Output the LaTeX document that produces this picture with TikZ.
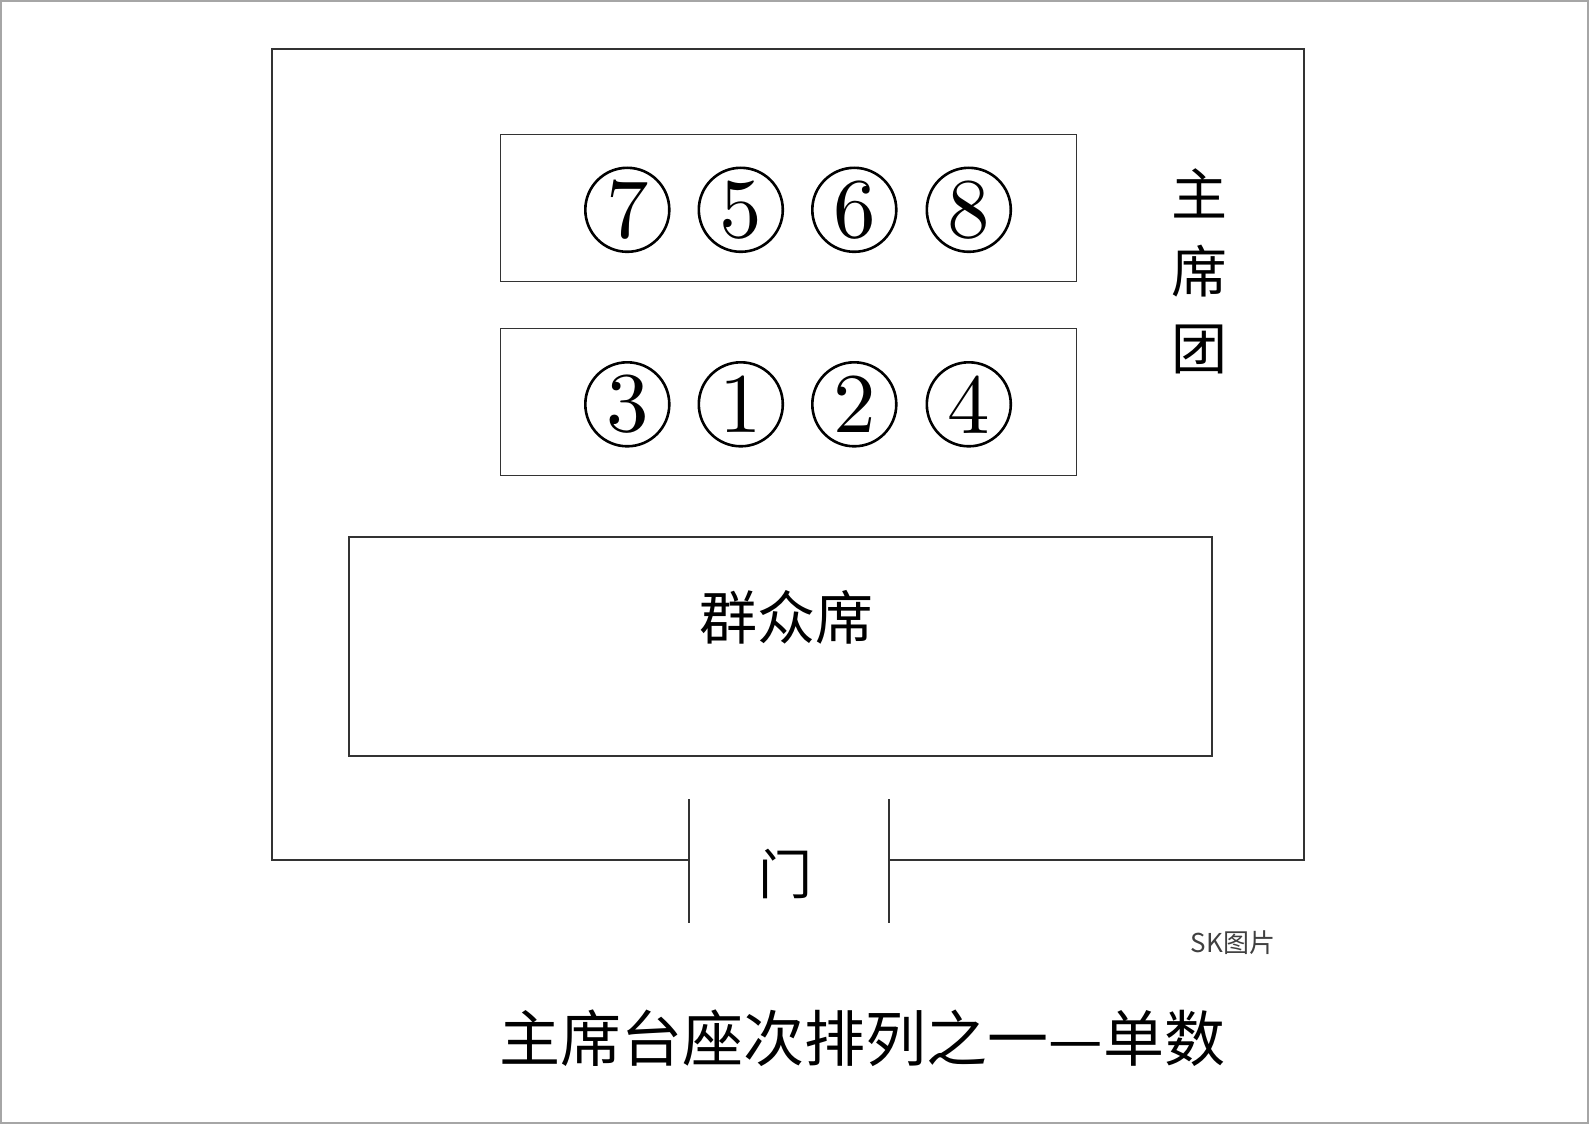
\documentclass[tikz,border=0pt]{standalone}
\usepackage{fontspec}
\newfontfamily\cjk{Noto Sans CJK SC}
\newcommand{\seatnum}[1]{\scalebox{8.5}{\fontsize{10}{10}\selectfont #1}}
\begin{document}
\begin{tikzpicture}[x=1pt,y=-1pt,
  wall/.style={draw=black!80, line width=1.4pt},
  tablebox/.style={draw=black!80, line width=1.4pt, rectangle, inner sep=0pt},
  seat/.style={circle, draw=black, line width=2.6pt, minimum size=84pt, inner sep=0pt},
  cjklabel/.style={font=\cjk\fontsize{58}{58}\selectfont, inner sep=0pt}]
\path[use as bounding box] (0,0) rectangle (1589,1124);
\draw[black!35, line width=2pt] (1,1) rectangle (1588,1123);
% room
\coordinate (dl) at (689,860);
\coordinate (dr) at (889,860);
\coordinate (dlt) at (689,799);
\coordinate (dlb) at (689,923);
\coordinate (drt) at (889,799);
\coordinate (drb) at (889,923);
\draw[wall] (dl) -- (272,860) -- (272,49) -- (1304,49) -- (1304,860) -- (dr);
\draw[wall] (dlt) -- (dlb);
\draw[wall] (drt) -- (drb);
% tables
\node[tablebox, minimum width=576pt, minimum height=147pt] (back) at (788.4,208.2) {};
\node[tablebox, minimum width=576pt, minimum height=147pt] (front) at (788.4,401.8) {};
\node[tablebox, minimum width=863pt, minimum height=219pt] (mass) at (780.3,646.5) {};
% seats
\node[seat] (s7) at (627.3,209.8) {\seatnum{7}};
\node[seat] (s5) at (740.8,209.8) {\seatnum{5}};
\node[seat] (s6) at (854.3,209.8) {\seatnum{6}};
\node[seat] (s8) at (968.8,209.8) {\seatnum{8}};
\node[seat] (s3) at (627.3,404.3) {\seatnum{3}};
\node[seat] (s1) at (740.8,404.3) {\seatnum{1}};
\node[seat] (s2) at (854.3,404.3) {\seatnum{2}};
\node[seat] (s4) at (968.8,404.3) {\seatnum{4}};
% labels
\node[cjklabel, align=center, font=\cjk\fontsize{56}{77}\selectfont] (zxt) at (1199,271.6) {主\\席\\团};
\node[cjklabel] (qzx) at (786.4,617) {群众席};
\node[cjklabel, font=\cjk\fontsize{54}{54}\selectfont] (door) at (785,873.6) {门};
\node[inner sep=0pt, font=\cjk\fontsize{26}{26}\selectfont, text=black!75] (wm) at (1233,943) {SK图片};
\node[inner sep=0pt, font=\cjk\fontsize{61}{61}\selectfont] (title) at (862.3,1038.7) {主席台座次排列之一—单数};
\end{tikzpicture}
\end{document}
